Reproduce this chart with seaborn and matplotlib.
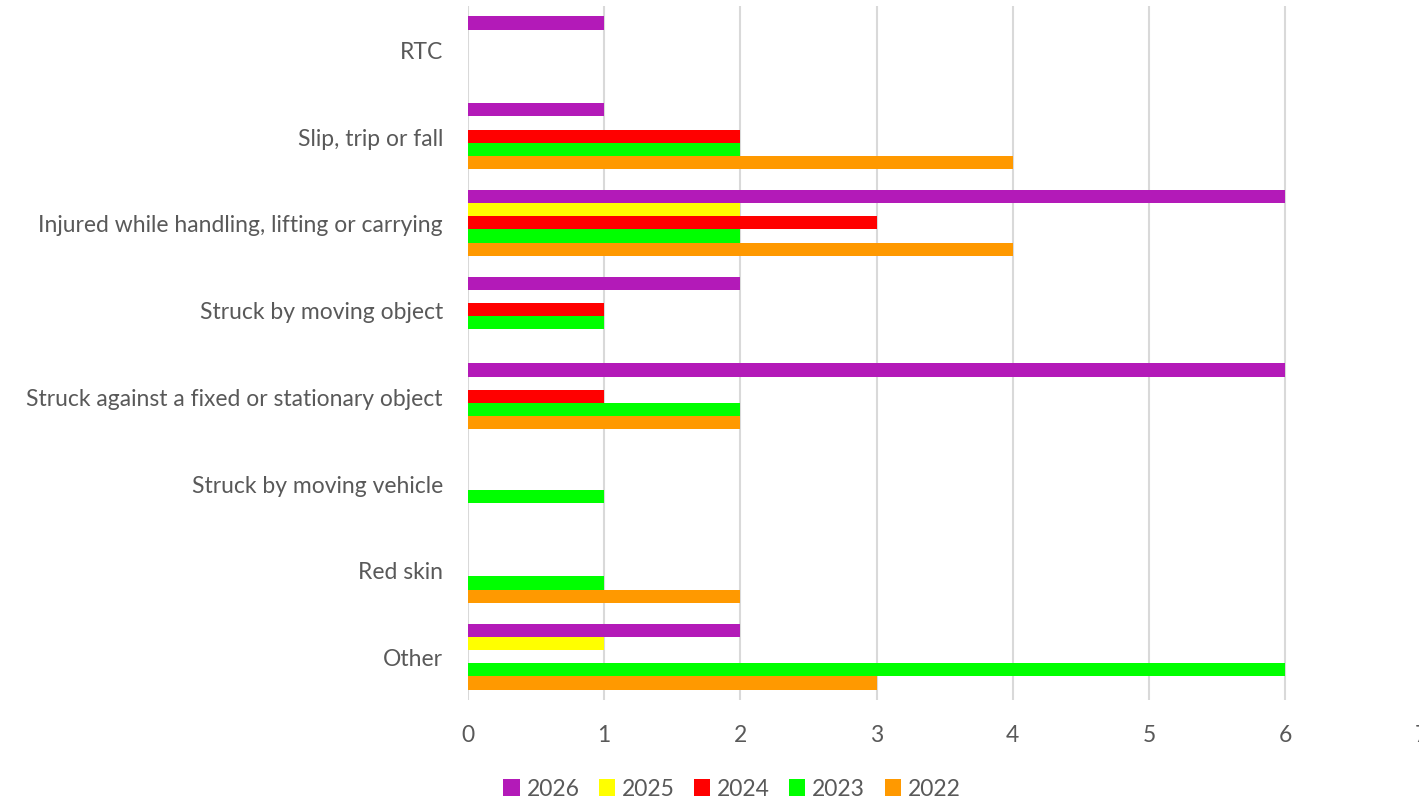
import matplotlib
matplotlib.use("Agg")
import matplotlib.pyplot as plt
import pandas as pd
import seaborn as sns

categories = [
    "RTC",
    "Slip, trip or fall",
    "Injured while handling, lifting or carrying",
    "Struck by moving object",
    "Struck against a fixed or stationary object",
    "Struck by moving vehicle",
    "Red skin",
    "Other",
]
years = ["2026", "2025", "2024", "2023", "2022"]
v2026 = [1, 1, 6, 2, 6, 0, 0, 2]
v2025 = [0, 0, 2, 0, 0, 0, 0, 1]
v2024 = [0, 2, 3, 1, 1, 0, 0, 0]
v2023 = [0, 2, 2, 1, 2, 1, 1, 6]
v2022 = [0, 4, 4, 0, 2, 0, 2, 3]
colors = ["#B31AB8", "#FFFF00", "#FF0000", "#00FF00", "#FF9900"]
x_ticks = [0, 1, 2, 3, 4, 5, 6, 7]

rows = []
for year, vals in zip(years, [v2026, v2025, v2024, v2023, v2022]):
    for cat, v in zip(categories, vals):
        rows.append({"category": cat, "year": year, "count": v})
df = pd.DataFrame(rows)

sns.set_style("white")
plt.rcParams["font.family"] = ["Lato", "DejaVu Sans"]
fs = 16.5

fig = plt.figure(figsize=(14.19, 8.03), dpi=100)
ax = fig.add_axes([468 / 1419, 1 - 701 / 803, 953.4 / 1419, 694 / 803])

sns.barplot(
    data=df, y="category", x="count", hue="year",
    order=categories, hue_order=years, palette=colors,
    orient="h", width=0.76, gap=0, ax=ax, legend=True,
    saturation=1, linewidth=0,
)

ax.set_xlim(0, 7)
ax.set_xticks(x_ticks)
ax.set_xlabel("")
ax.set_ylabel("")
for s in ax.spines.values():
    s.set_visible(False)
ax.grid(axis="x", color="#D9D9D9", linewidth=1.5)
ax.grid(axis="y", visible=False)
ax.set_axisbelow(True)
ax.tick_params(axis="x", length=0, pad=17, labelsize=fs, labelcolor="#595959")
ax.tick_params(axis="y", length=0, pad=18, labelsize=fs, labelcolor="#595959")

handles, labels = ax.get_legend_handles_labels()
ax.get_legend().remove()
fig.legend(
    handles, labels, loc="center", bbox_to_anchor=(732 / 1419, 1 - 790 / 803),
    ncol=5, frameon=False, fontsize=fs, labelcolor="#595959",
    handlelength=0.7, handleheight=0.7, handletextpad=0.3, columnspacing=0.85,
)

fig.savefig("out.png", dpi=100)
